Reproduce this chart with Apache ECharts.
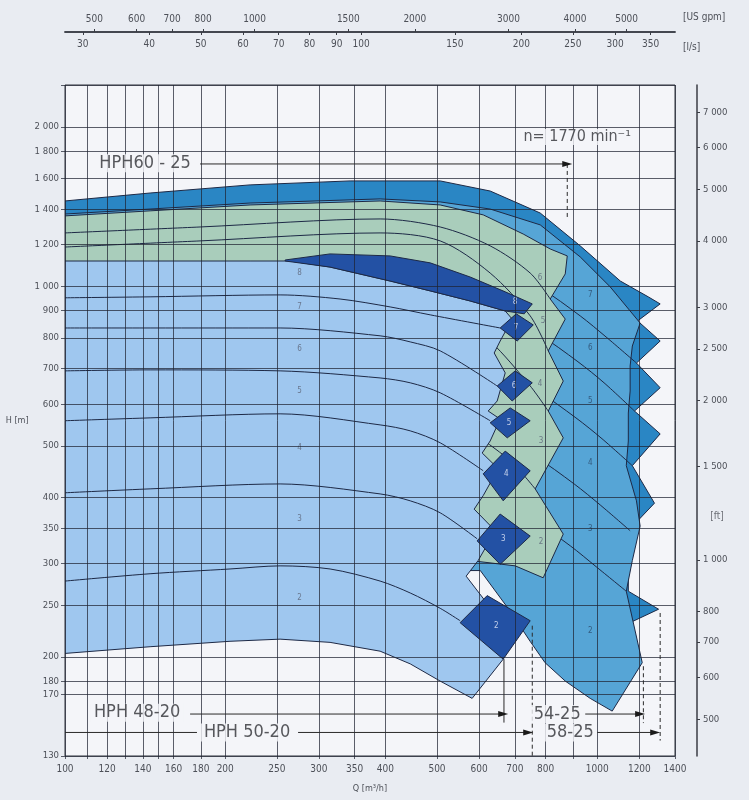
<!DOCTYPE html>
<html><head><meta charset="utf-8">
<script src="https://cdn.jsdelivr.net/npm/echarts@6/dist/echarts.min.js"></script>
<style>html,body{margin:0;padding:0;background:#e9ecf2;}#c{width:749px;height:800px;}</style>
</head><body><div id="c"></div>
<script>
// ---------- axis ticks / labels ----------
const qGridValues = [100,110,120,130,140,150,160,180,200,250,300,350,400,500,600,700,800,900,1000,1200,1400];
const qLabelValues = [100,120,140,160,180,200,250,300,350,400,500,600,700,800,1000,1200,1400];
const hGridValues = [130,170,180,200,250,300,350,400,500,600,700,800,900,1000,1200,1400,1600,1800,2000,2400];
const hLabelValues = [130,170,180,200,250,300,350,400,500,600,700,800,900,1000,1200,1400,1600,1800,2000];
const ftLabelValues = [500,600,700,800,1000,1500,2000,2500,3000,4000,5000,6000,7000];
const gpmLabelValues = [500,600,700,800,1000,1500,2000,3000,4000,5000];
const lpsLabelValues = [30,40,50,60,70,80,90,100,150,200,250,300,350];

// ---------- regions [Q m3/h, H m] ----------
const regionD = [[100,1450],[144.5,1501],[222.7,1555],[343.3,1582],[506.9,1582],[629.3,1514],[781.4,1376],[929,1193],[1105,1024],[1247,956],[1313,927],[1191,861],[1313,789],[1185,717],[1313,644],[1175,582],[1313,527],[1164,459],[1281,390],[1144,346],[1144,266],[1304,246],[1090,226],[852,255],[577,297],[100,297]];
const regionC = [[100,1370],[144.5,1400],[222.7,1437],[390.9,1463],[506.9,1444],[629.3,1400],[781.4,1307],[929,1137],[1058,998],[1204,853],[1164,772],[1153,708],[1153,635],[1144,577],[1144,511],[1134,459],[1185,394],[1204,353],[1164,304],[1134,266],[1215,195],[1067,158],[970,167],[871,180],[798,195],[748,214],[686,244],[603,291],[100,291]];
const regionB = [[100,1359],[144.5,1389],[222.7,1425],[390.9,1450],[506.9,1425],[610.6,1365],[726,1256],[816,1177],[878.4,1142],[870.8,1056],[816,947],[870.8,868],[809,756],[863.3,663],[809,582],[863.3,518],[764.6,415],[863.3,341],[791.5,282],[701.3,297],[577.1,304],[100,304]];
const regionA = [[100,1117],[144.5,1117],[222.7,1117],[264.9,1117],[314.8,1088],[408.2,1024],[485.5,981],[577.1,939],[671.6,899],[692.2,868],[657.1,789],[640.3,749],[671.6,687],[648.7,608],[623.9,582],[657.1,562],[629.3,511],[607.9,485],[651.7,453],[610.6,403],[587.2,380],[643.2,346],[597.5,304],[567.2,284],[615.9,255],[665.8,198],[582.1,167],[506.9,180],[445.3,194],[390.9,205],[314.8,213],[253.6,216],[204.2,214],[144.5,209],[100,203]];
const regionADark = [[259.2,1122],[314.8,1152],[408.2,1142],[485.5,1108],[577.1,1042],[671.6,977],[755,927],[729.2,888],[671.6,899],[577.1,939],[485.5,981],[408.2,1024],[314.8,1088],[259.2,1117]];
const tilesA = [
  [[657.1,835],[704.4,888],[758.3,846],[707.4,789]],
  [[648.7,649],[701.3,693],[755,658],[692.2,608]],
  [[629.3,553],[686.2,590],[748.3,558],[677.6,518]],
  [[610.6,443],[671.6,489],[748.3,449],[665.8,394]],
  [[594.9,331],[657.1,372],[748.3,338],[657.1,299]],
  [[552.6,232],[621.2,261],[748.3,234],[665.8,198]]
];

// ---------- stage curves ----------
const curvesA = [
  [[100,278],[144.5,287],[204.2,293],[253.6,297],[314.8,293],[390.9,278],[445.3,264],[506.9,247],[552.6,234]],
  [[100,408],[144.5,415],[253.6,424],[390.9,406],[445.3,394],[506.9,374],[594.9,334]],
  [[100,558],[144.5,565],[253.6,575],[390.9,548],[445.3,534],[506.9,507],[610.6,449]],
  [[100,693],[144.5,696],[253.6,693],[390.9,672],[445.3,658],[506.9,630],[629.3,558]],
  [[100,835],[144.5,835],[253.6,835],[390.9,807],[445.3,786],[506.9,756],[648.7,649]],
  [[100,952],[144.5,956],[253.6,964],[328.7,947],[408.2,915],[485.5,884],[657.1,835]]
];
const curvesB = [
  [[100,1262],[179.4,1295],[390.9,1341],[506.9,1295],[629.3,1193],[748.3,1060],[816,947]],
  [[100,1187],[179.4,1219],[390.9,1262],[506.9,1219],[629.3,1060],[748.3,880],[809,756]],
  [[506.9,939],[629.3,789],[748.3,649],[809,582]],
  [[577.1,534],[686.2,469],[764.6,415]]
];
const curvesC = [
  [[657.1,1084],[781.4,994],[929,880],[1039,803],[1185,717]],
  [[651.7,888],[774,814],[920,721],[1030,658],[1175,582]],
  [[646,696],[767,638],[912,565],[1021,516],[1164,459]],
  [[640,522],[761,479],[905,424],[1013,387],[1153,346]],
  [[629,399],[748,366],[890,324],[995,296],[1134,266]]
];

// ---------- stage number labels ----------
const bandLabelsA = [[276,1060,'8'],[276,915,'7'],[276,762,'6'],[276,635,'5'],[276,496,'4'],[276,364,'3'],[276,258,'2']];
const tileLabelsA = [[701,935,'8'],[704,835,'7'],[698,649,'6'],[683,553,'5'],[675,443,'4'],[666,334,'3'],[646,229,'2']];
const tileLabelsB = [[781,1038,'6'],[791,861,'5'],[781,655,'4'],[784,511,'3'],[784,330,'2']];
const bandLabelsC = [[970,964,'7'],[970,766,'6'],[970,608,'5'],[970,465,'4'],[970,349,'3'],[970,224,'2']];

// ---------- annotations ----------
const annTexts = [[141.4,1708,'HPH60 - 25'],[917,1915,'n= 1770 min\u207B\u00B9'],[136.6,156.9,'HPH 48-20'],[219.8,144,'HPH 50-20'],[841,156,'54-25'],[889.8,144,'58-25']];
const annArrows = [
  [[179.4,1703],[878.4,1703]],
  [[171.8,156],[665.8,156]],
  [[274.1,144],[741.8,144]],
  [[949.4,156],[1204,156]],
  [[1000,144],[1285,144]]
];
const annPlain = [[[100,144],[177,144]],[[668,198],[668,150.3]]];
const annDashed = [[[878.4,1703],[878.4,1347]],[[755,229],[755,130]],[[1221,192],[1221,150]],[[1313,242],[1313,139]]];
const ftLabelPoint = [1400,368,'[ft]'];

// ---------- styles ----------
const LINE = '#1d2946';
const COL_A = '#9fc7ef', COL_ADARK = '#2351a4', COL_B = '#a9cdbb', COL_C = '#56a5d6', COL_D = '#2a86c4';
const TXT = '#4d5058';
const FONT = 'DejaVu Sans Condensed, DejaVu Sans, sans-serif';
const GRIDLINE = {color:'rgba(30,34,48,0.72)', width:1};
const NOFILL = {color:'rgba(0,0,0,0)'};

const fmtSp = v => { const n = Math.round(v); return n >= 1000 ? Math.floor(n/1000) + ' ' + String(n % 1000).padStart(3,'0') : String(n); };
const fmtPlain = v => String(Math.round(v));

function region(poly, fill, z) {
  return {type:'custom', coordinateSystem:'cartesian2d', xAxisIndex:0, yAxisIndex:0, data: poly, z, silent:true, clip:true,
    renderItem: (params, api) => {
      if (params.dataIndex !== 0) return null;
      return {type:'polygon', shape:{points: poly.map(p => api.coord(p))}, style:{fill, stroke: LINE, lineWidth: 1}};
    }};
}
function tiles(list, fill, z) {
  return {type:'custom', coordinateSystem:'cartesian2d', xAxisIndex:0, yAxisIndex:0, data: list.map(t => t[0]), z, silent:true, clip:true,
    renderItem: (params, api) => ({type:'polygon', shape:{points: list[params.dataIndex].map(p => api.coord(p))}, style:{fill, stroke: LINE, lineWidth: 1}})};
}
function curves(list, z) {
  return list.map(c => ({type:'line', xAxisIndex:0, yAxisIndex:0, data:c, z, smooth:0.3, symbol:'none', silent:true, lineStyle:{color:LINE, width:1}}));
}
function labels(list, color, size, z) {
  return {type:'scatter', xAxisIndex:0, yAxisIndex:0, z, silent:true, clip:false, symbolSize:1, itemStyle:NOFILL,
    data: list.map(t => ({name:t[2], value:[t[0], t[1]]})),
    label:{show:true, position:'inside', formatter:'{b}', color, fontSize:size, fontFamily:FONT}};
}

const series = [];
series.push(region(regionD, COL_D, 2));
series.push(region(regionC, COL_C, 3));
series.push(...curves(curvesC, 3));
series.push(region(regionB, COL_B, 4));
series.push(...curves(curvesB, 4));
series.push(region(regionA, COL_A, 5));
series.push(region(regionADark, COL_ADARK, 5));
series.push(tiles(tilesA, COL_ADARK, 5));
series.push(...curves(curvesA, 5));
series.push(labels(bandLabelsA, '#5b6478', 8, 6));
series.push(labels(tileLabelsA, '#e8eefa', 8, 6));
series.push(labels(tileLabelsB, '#5b6478', 8, 6));
series.push(labels(bandLabelsC, '#2c4a6a', 8, 6));
annArrows.forEach(a => series.push({type:'line', xAxisIndex:0, yAxisIndex:0, z:12, silent:true, clip:false,
  data: a.map((p,i) => i === a.length-1 ? {value:p, symbol:'triangle', symbolSize:[6,10], symbolRotate:-90} : {value:p, symbol:'none'}),
  lineStyle:{color:'#2a2a2a', width:1}, itemStyle:{color:'#1a1a1a'}}));
annPlain.forEach(a => series.push({type:'line', xAxisIndex:0, yAxisIndex:0, z:12, silent:true, clip:false, data:a, symbol:'none', lineStyle:{color:'#2a2a2a', width:1}}));
annDashed.forEach(a => series.push({type:'line', xAxisIndex:0, yAxisIndex:0, z:12, silent:true, clip:false, data:a, symbol:'none', lineStyle:{color:'#2a2a2a', width:1, type:[4,3]}}));
series.push({type:'scatter', xAxisIndex:0, yAxisIndex:0, z:13, silent:true, clip:false, symbolSize:1, itemStyle:NOFILL,
  data: annTexts.map((t,i) => ({name:t[2], value:[t[0], t[1]], label:{fontSize: i === 1 ? 16 : 18}})),
  label:{show:true, position:'inside', formatter:'{b}', color:'#2e2f34', fontSize:18, fontFamily:FONT, backgroundColor:'#f4f5f9', padding:[0,3]}});
series.push({type:'scatter', xAxisIndex:0, yAxisIndex:0, z:13, silent:true, clip:false, symbolSize:1, itemStyle:NOFILL,
  data:[{name:ftLabelPoint[2], value:[ftLabelPoint[0], ftLabelPoint[1]]}],
  label:{show:true, position:'inside', offset:[42,0], formatter:'{b}', color:TXT, fontSize:10, fontFamily:FONT}});

const axisLbl = {color:TXT, fontSize:10, fontFamily:FONT};
const option = {
  animation:false,
  backgroundColor:'#e9ecf2',
  grid:[
    {left:65, right:74, top:85, bottom:44, show:true, backgroundColor:'#f4f5f9', borderColor:'#30343e', borderWidth:1},
    {left:65, right:74, top:31, height:1}
  ],
  xAxis:[
    {type:'log', gridIndex:0, min:100, max:1400, z:8,
     name:'Q [m\u00B3/h]', nameLocation:'middle', nameGap:28, nameTextStyle:{color:TXT, fontSize:9, fontFamily:FONT},
     axisLine:{show:false}, axisTick:{show:true, customValues:qGridValues, length:3, lineStyle:GRIDLINE},
     axisLabel:{...axisLbl, customValues:qLabelValues, formatter:fmtPlain, margin:8},
     splitLine:{show:true, lineStyle:GRIDLINE}, minorTick:{show:false}, minorSplitLine:{show:false}},
    {type:'log', gridIndex:1, position:'top', min:440.29, max:6164.1,
     name:'[US gpm]', nameLocation:'end', nameGap:8, nameTextStyle:{color:TXT, fontSize:10, fontFamily:FONT, verticalAlign:'bottom', padding:[0,0,10,0]},
     axisLine:{show:true, lineStyle:{color:'#3a3d45', width:1.5}}, axisTick:{show:true, customValues:gpmLabelValues, length:3, lineStyle:{color:'#3a3d45'}},
     axisLabel:{...axisLbl, customValues:gpmLabelValues, formatter:fmtPlain, margin:7}, splitLine:{show:false}},
    {type:'log', gridIndex:1, position:'bottom', min:27.778, max:388.89,
     name:'[l/s]', nameLocation:'end', nameGap:8, nameTextStyle:{color:TXT, fontSize:10, fontFamily:FONT, verticalAlign:'top', padding:[10,0,0,0]},
     axisLine:{show:true, lineStyle:{color:'#3a3d45', width:1.5}}, axisTick:{show:true, customValues:lpsLabelValues, length:3, lineStyle:{color:'#3a3d45'}},
     axisLabel:{...axisLbl, customValues:lpsLabelValues, formatter:fmtPlain, margin:7}, splitLine:{show:false}}
  ],
  yAxis:[
    {type:'log', gridIndex:0, min:130, max:2400, z:8,
     name:'H [m]', nameLocation:'middle', nameRotate:0, nameGap:34, nameTextStyle:{color:TXT, fontSize:9, fontFamily:FONT},
     axisLine:{show:false}, axisTick:{show:true, customValues:hGridValues, length:4, lineStyle:GRIDLINE},
     axisLabel:{...axisLbl, fontSize:9.5, customValues:hLabelValues, formatter:fmtSp, margin:6},
     splitLine:{show:true, lineStyle:GRIDLINE}},
    {type:'log', gridIndex:0, position:'right', offset:22, min:426.5, max:7874,
     axisLine:{show:true, lineStyle:{color:'#3a3d45', width:1.5}}, axisTick:{show:true, customValues:ftLabelValues, length:3, lineStyle:{color:'#3a3d45'}},
     axisLabel:{...axisLbl, fontSize:9.5, customValues:ftLabelValues, formatter:fmtSp, margin:6}, splitLine:{show:false}},
    {type:'value', gridIndex:1, show:false, min:0, max:1}
  ],
  series
};
const chart = echarts.init(document.getElementById('c'), null, {renderer:'canvas'});
chart.setOption(option);
</script></body></html>
